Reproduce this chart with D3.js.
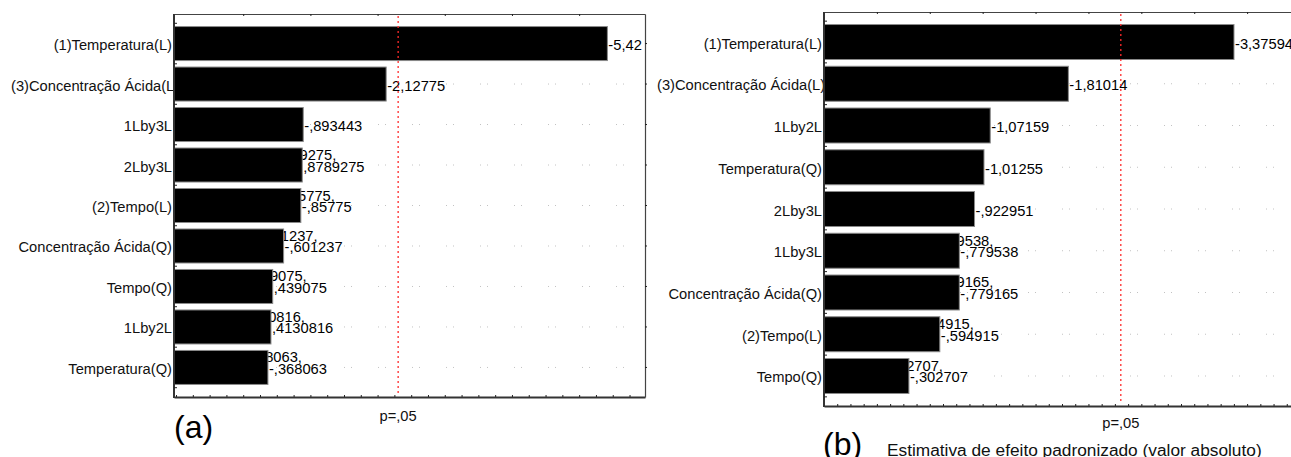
<!DOCTYPE html>
<html>
<head>
<meta charset="utf-8">
<script src="https://cdn.jsdelivr.net/npm/d3@7"></script>
<style>
body { margin: 0; background: #fff; }
svg { display: block; font-family: "Liberation Sans", Arial, sans-serif; }
</style>
</head>
<body>
<svg width="1291" height="457"></svg>
<script>
// panel (a)
const leftCats = ["(1)Temperatura(L)", "(3)Concentração Ácida(L)", "1Lby3L", "2Lby3L", "(2)Tempo(L)",
    "Concentração Ácida(Q)", "Tempo(Q)", "1Lby2L", "Temperatura(Q)"];
const leftValues = [5.42, 2.12775, 0.893443, 0.8789275, 0.85775, 0.601237, 0.439075, 0.4130816, 0.368063];
const leftLabels = ["-5,42", "-2,12775", "-,893443", ",8789275", "-,85775", "-,601237", ",439075", ",4130816", "-,368063"];

// panel (b)
const rightCats = ["(1)Temperatura(L)", "(3)Concentração Ácida(L)", "1Lby2L", "Temperatura(Q)", "2Lby3L",
    "1Lby3L", "Concentração Ácida(Q)", "(2)Tempo(L)", "Tempo(Q)"];
const rightValues = [3.37594, 1.81014, 1.07159, 1.01255, 0.922951, 0.779538, 0.779165, 0.594915, 0.302707];
const rightLabels = ["-3,37594", "-1,81014", "-1,07159", "-1,01255", "-,922951", "-,779538", "-,779165", "-,594915", "-,302707"];

const pLabel = "p=,05";
const tCrit = 2.306;
const xTitle = "Estimativa de efeito padronizado (valor absoluto)";

const FS = 14.7;
const svg = d3.select("svg");
svg.append("rect").attr("width", 1291).attr("height", 457).attr("fill", "#fff");

function panel(o) {
    const g = svg.append("g");
    const x = d3.scaleLinear().domain(o.domain).range([o.x0, o.x1]);
    const y = d3.scaleBand().domain(o.cats).range([o.top, o.bottom])
        .paddingInner(o.pi).paddingOuter(o.po);
    const data = o.cats.map((c, i) => ({ cat: c, v: o.values[i], lab: o.labels[i] }));
    const mid = d => y(d.cat) + y.bandwidth() / 2;

    // category labels (bars are drawn over the long ones)
    g.selectAll("text.cat").data(data).join("text")
        .attr("class", "cat")
        .attr("x", o.x0 - 2)
        .attr("y", d => mid(d) + 6.5)
        .attr("text-anchor", "end")
        .attr("font-size", FS)
        .attr("fill", "#111")
        .text(d => d.cat)
        .each(function () {
            const w = this.getComputedTextLength();
            if (o.x0 - 2 - w < o.minLabelX) {
                d3.select(this).attr("text-anchor", "start").attr("x", o.minLabelX);
            }
        });

    svg.append("clipPath").attr("id", "clip" + o.id)
        .append("rect")
        .attr("x", o.x0).attr("y", o.top - 4)
        .attr("width", o.x1 - o.x0).attr("height", o.bottom - o.top + 8);
    const plot = g.append("g").attr("clip-path", `url(#clip${o.id})`);

    // dotted grid through the rows
    plot.selectAll("line.grid").data(data).join("line")
        .attr("class", "grid")
        .attr("x1", o.x0).attr("x2", o.x1)
        .attr("y1", mid).attr("y2", mid)
        .attr("stroke", "#c2c2c2")
        .attr("stroke-dasharray", "1,6,1,26");

    // doubled labels that sit behind the short bars
    plot.selectAll("text.ghost").data(data.filter(d => d.v < o.ghostBelow)).join("text")
        .attr("class", "ghost")
        .attr("x", d => x(d.v) + 34)
        .attr("y", d => mid(d) - 5)
        .attr("text-anchor", "end")
        .attr("font-size", FS)
        .attr("fill", "#000")
        .text(d => d.lab + ",");

    plot.selectAll("rect.bar").data(data).join("rect")
        .attr("class", "bar")
        .attr("x", o.x0)
        .attr("y", d => y(d.cat))
        .attr("width", d => x(d.v) - o.x0)
        .attr("height", y.bandwidth())
        .attr("fill", "#000")
        .attr("stroke", "#8a8a8a")
        .attr("stroke-width", 1);

    plot.selectAll("text.val").data(data).join("text")
        .attr("class", "val")
        .attr("x", d => x(d.v) + 1)
        .attr("y", d => mid(d) + 6.5)
        .attr("font-size", FS)
        .attr("fill", "#000")
        .text(d => d.lab);

    // axes
    const bottom = g.append("g")
        .attr("transform", `translate(0,${o.bottom})`)
        .call(d3.axisBottom(x).tickValues(o.botTicks).tickSize(-2).tickSizeOuter(0).tickFormat(""));
    bottom.select(".domain").attr("stroke", "#333").attr("stroke-width", 2);
    bottom.selectAll(".tick line").attr("stroke", "#222");

    const topAx = g.append("g")
        .attr("transform", `translate(0,${o.top})`)
        .call(d3.axisTop(x).tickValues(o.topTicks).tickSize(-2).tickSizeOuter(0).tickFormat(""));
    topAx.select(".domain").attr("stroke", "#444").attr("stroke-width", 1.2);
    topAx.selectAll(".tick line").attr("stroke", "#222");

    g.append("line")
        .attr("x1", o.x0).attr("x2", o.x0)
        .attr("y1", o.top).attr("y2", o.bottom + 1)
        .attr("stroke", "#333").attr("stroke-width", 2);
    const bounds = o.cats.map(c => y(c) - y.step() * y.paddingInner() / 2)
        .concat([y(o.cats[o.cats.length - 1]) + y.bandwidth() + y.step() * y.paddingInner() / 2]);
    g.selectAll("line.ltick").data(bounds).join("line")
        .attr("class", "ltick")
        .attr("x1", o.x0).attr("x2", o.x0 + 3)
        .attr("y1", d => d).attr("y2", d => d)
        .attr("stroke", "#222");

    if (o.x1 < 1291) {
        const rightAx = g.append("g")
            .attr("transform", `translate(${o.x1},0)`)
            .call(d3.axisRight(y).tickSize(2).tickSizeOuter(0).tickFormat(""));
        rightAx.select(".domain").attr("stroke", "#444").attr("stroke-width", 1.2);
        rightAx.selectAll(".tick line").attr("stroke", "#222");
    }

    // significance line
    g.append("line")
        .attr("x1", x(tCrit)).attr("x2", x(tCrit))
        .attr("y1", o.top + 2).attr("y2", o.bottom - 2)
        .attr("stroke", "#ff2a2a").attr("stroke-width", 1.3)
        .attr("stroke-dasharray", "2,3");
    g.append("text")
        .attr("x", x(tCrit)).attr("y", o.pY)
        .attr("text-anchor", "middle")
        .attr("font-size", FS)
        .attr("fill", "#111")
        .text(pLabel);

    g.append("text")
        .attr("x", o.letterX).attr("y", o.letterY)
        .attr("font-size", 32)
        .attr("fill", "#000")
        .text(o.letter);

    if (o.title) {
        g.append("text")
            .attr("x", o.titleX).attr("y", o.titleY)
            .attr("font-size", 17.3)
            .attr("fill", "#111")
            .text(o.title);
    }
}

panel({
    id: "a", cats: leftCats, values: leftValues, labels: leftLabels,
    domain: [-1.03, 5.98], x0: 174, x1: 645, top: 14, bottom: 397,
    pi: 0.16, po: 0.31, ghostBelow: 0.885, minLabelX: 11,
    topTicks: d3.range(0, 6, 1), botTicks: d3.range(-1, 6, 0.25),
    pY: 421, letter: "(a)", letterX: 174, letterY: 438
});

panel({
    id: "b", cats: rightCats, values: rightValues, labels: rightLabels,
    domain: [-0.5, 4.0], x0: 824, x1: 1300, top: 12, bottom: 406,
    pi: 0.162, po: 0.3, ghostBelow: 0.85, minLabelX: 657,
    topTicks: d3.range(0, 4.01, 0.5), botTicks: d3.range(-0.5, 4.01, 0.125),
    pY: 428, letter: "(b)", letterX: 823, letterY: 455,
    title: xTitle, titleX: 887, titleY: 456
});
</script>
</body>
</html>
